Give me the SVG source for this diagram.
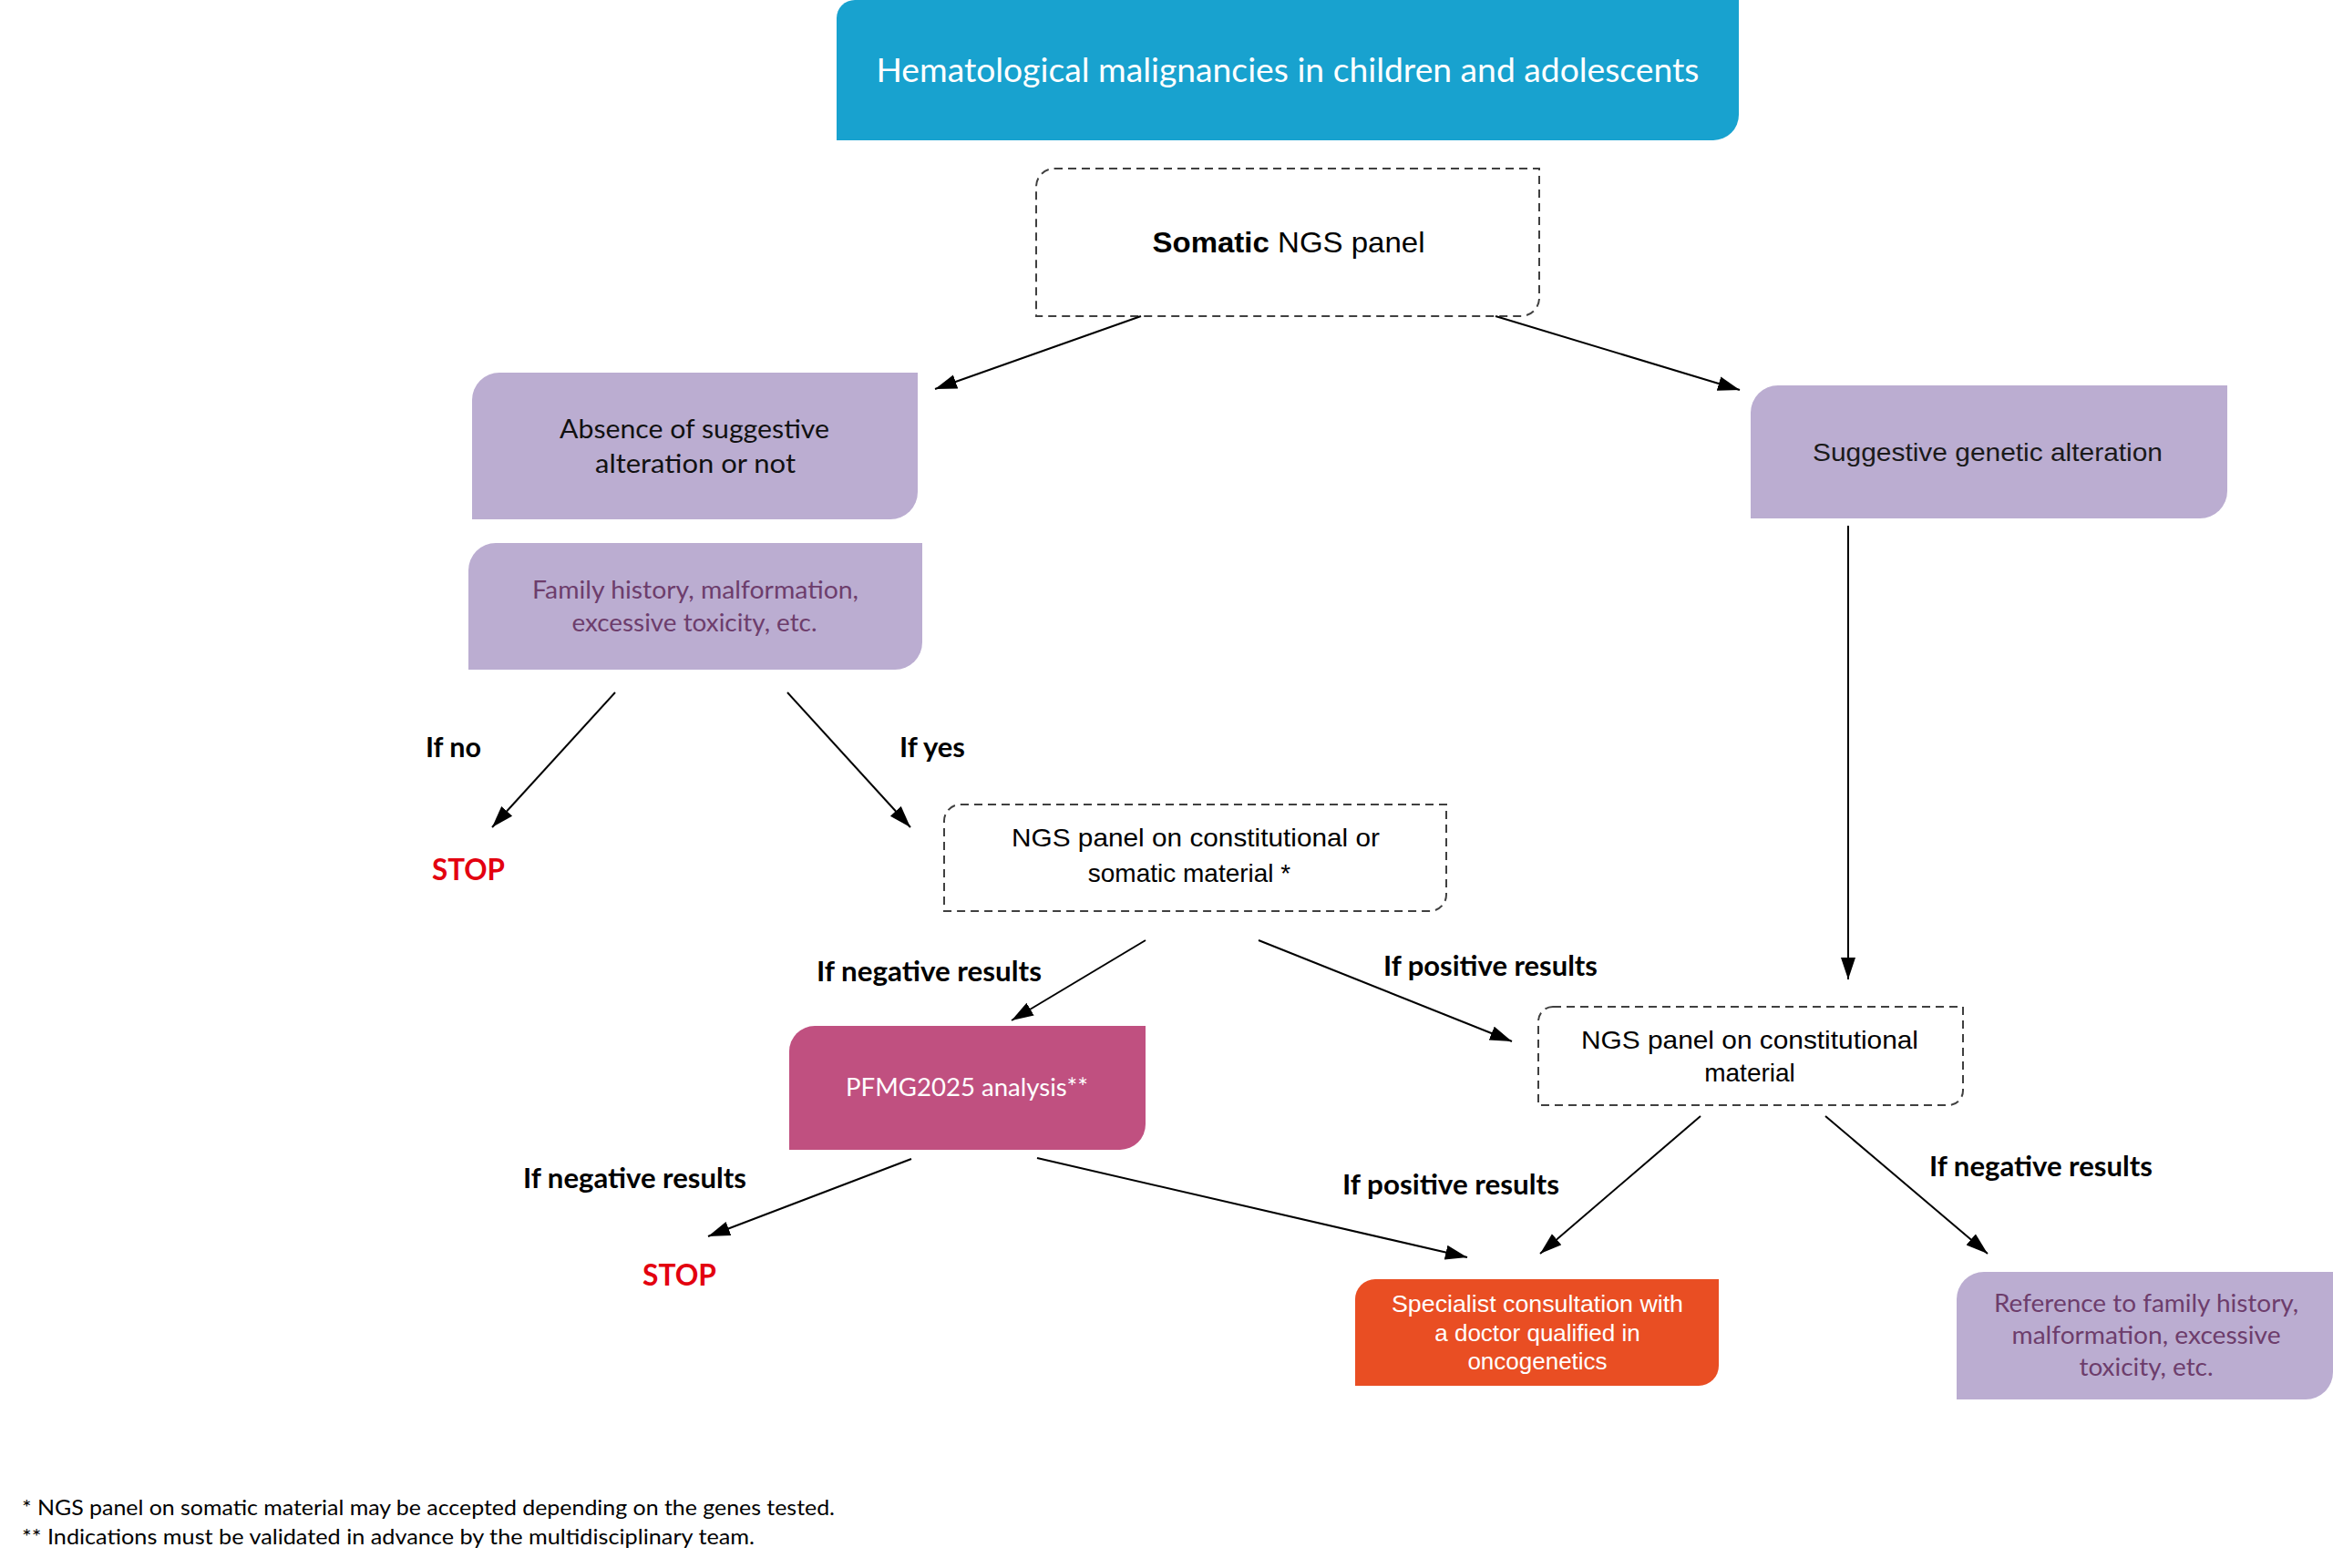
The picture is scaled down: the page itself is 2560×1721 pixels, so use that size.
<svg xmlns="http://www.w3.org/2000/svg" width="2560" height="1721" viewBox="0 0 2560 1721">
<style>
.lato{font-family:Lato,"Open Sans","Liberation Sans",sans-serif}
.arial{font-family:"Liberation Sans",Arial,sans-serif}
.dash{fill:#ffffff;stroke:#404040;stroke-width:2;stroke-dasharray:9 6}
.purple{fill:#bbadd1}
.lbl{font-family:Lato,"Open Sans","Liberation Sans",sans-serif;font-weight:bold;font-size:30px;fill:#000}
.stop{font-family:Lato,"Open Sans","Liberation Sans",sans-serif;font-weight:bold;font-size:33px;fill:#e3000f}
.conn line{stroke:#000;stroke-width:2;marker-end:url(#ah)}
.mid{text-anchor:middle}
</style>
<defs>
<marker id="ah" markerUnits="userSpaceOnUse" markerWidth="26" markerHeight="18" refX="24" refY="8" orient="auto">
<path d="M0,0 L24,8 L0,16 Z" fill="#000"/>
</marker>
</defs>
<rect width="2560" height="1721" fill="#ffffff"/>

<g id="title">
<path d="M938,0 H1908 V126 A28 28 0 0 1 1880,154 H918 V20 A20 20 0 0 1 938,0 Z" fill="#18a2cf"/>
<text class="lato" x="1413" y="90" font-size="37" fill="#ffffff" text-anchor="middle" textLength="903" lengthAdjust="spacingAndGlyphs">Hematological malignancies in children and adolescents</text>
</g>

<g id="somatic">
<path class="dash" d="M1157,185 H1689 V327 A20 20 0 0 1 1669,347 H1137 V205 A20 20 0 0 1 1157,185 Z"/>
<text class="arial" x="1414" y="277" font-size="32" fill="#000" text-anchor="middle" textLength="299" lengthAdjust="spacingAndGlyphs"><tspan font-weight="bold">Somatic</tspan> NGS panel</text>
</g>

<g id="absence">
<path class="purple" d="M548,409 H1007 V540 A30 30 0 0 1 977,570 H518 V439 A30 30 0 0 1 548,409 Z"/>
<text class="lato mid" x="762" y="481" font-size="29" fill="#111" textLength="296" lengthAdjust="spacingAndGlyphs">Absence of suggestive</text>
<text class="lato mid" x="763" y="519" font-size="29" fill="#111" textLength="220" lengthAdjust="spacingAndGlyphs">alteration or not</text>
</g>

<g id="family">
<path class="purple" d="M544,596 H1012 V705 A30 30 0 0 1 982,735 H514 V626 A30 30 0 0 1 544,596 Z"/>
<text class="lato mid" x="763" y="657" font-size="26" fill="#6d3d6c" textLength="358" lengthAdjust="spacingAndGlyphs">Family history, malformation,</text>
<text class="lato mid" x="762" y="693" font-size="26" fill="#6d3d6c" textLength="269" lengthAdjust="spacingAndGlyphs">excessive toxicity, etc.</text>
</g>

<g id="suggestive">
<path class="purple" d="M1951,423 H2444 V539 A30 30 0 0 1 2414,569 H1921 V453 A30 30 0 0 1 1951,423 Z"/>
<text class="arial mid" x="2181" y="506" font-size="28" fill="#1a1a1a" textLength="384" lengthAdjust="spacingAndGlyphs">Suggestive genetic alteration</text>
</g>

<g id="stop1">
<text class="stop" x="474" y="966" textLength="80" lengthAdjust="spacingAndGlyphs">STOP</text>
</g>

<g id="ngs-const-or-somatic">
<path class="dash" d="M1054,883 H1587 V982 A18 18 0 0 1 1569,1000 H1036 V901 A18 18 0 0 1 1054,883 Z"/>
<text class="arial mid" x="1312" y="929" font-size="28" fill="#000" textLength="404" lengthAdjust="spacingAndGlyphs">NGS panel on constitutional or</text>
<text class="arial mid" x="1305" y="968" font-size="28" fill="#000">somatic material *</text>
</g>

<g id="pfmg">
<path d="M894,1126 H1257 V1234 A28 28 0 0 1 1229,1262 H866 V1154 A28 28 0 0 1 894,1126 Z" fill="#c05080"/>
<text class="lato mid" x="1061" y="1203" font-size="26" fill="#ffffff" textLength="266" lengthAdjust="spacingAndGlyphs">PFMG2025 analysis**</text>
</g>

<g id="ngs-const">
<path class="dash" d="M1704,1105 H2154 V1197 A16 16 0 0 1 2138,1213 H1688 V1121 A16 16 0 0 1 1704,1105 Z"/>
<text class="arial mid" x="1920" y="1151" font-size="28" fill="#000" textLength="370" lengthAdjust="spacingAndGlyphs">NGS panel on constitutional</text>
<text class="arial mid" x="1920" y="1187" font-size="28" fill="#000">material</text>
</g>

<g id="stop2">
<text class="stop" x="705" y="1411" textLength="81" lengthAdjust="spacingAndGlyphs">STOP</text>
</g>

<g id="specialist">
<path d="M1509,1404 H1886 V1499 A22 22 0 0 1 1864,1521 H1487 V1426 A22 22 0 0 1 1509,1404 Z" fill="#e94e23"/>
<text class="arial mid" x="1687" y="1440" font-size="26" fill="#ffffff" textLength="320" lengthAdjust="spacingAndGlyphs">Specialist consultation with</text>
<text class="arial mid" x="1687" y="1472" font-size="26" fill="#ffffff">a doctor qualified in</text>
<text class="arial mid" x="1687" y="1503" font-size="26" fill="#ffffff">oncogenetics</text>
</g>

<g id="reference">
<path class="purple" d="M2177,1396 H2560 V1506 A30 30 0 0 1 2530,1536 H2147 V1426 A30 30 0 0 1 2177,1396 Z"/>
<text class="lato mid" x="2355" y="1440" font-size="27" fill="#6d3d6c" textLength="334" lengthAdjust="spacingAndGlyphs">Reference to family history,</text>
<text class="lato mid" x="2355" y="1475" font-size="27" fill="#6d3d6c" textLength="295" lengthAdjust="spacingAndGlyphs">malformation, excessive</text>
<text class="lato mid" x="2355" y="1510" font-size="27" fill="#6d3d6c" textLength="147" lengthAdjust="spacingAndGlyphs">toxicity, etc.</text>
</g>

<g id="labels">
<text class="lbl" x="467" y="831" textLength="61" lengthAdjust="spacingAndGlyphs">If no</text>
<text class="lbl" x="987" y="831" textLength="72" lengthAdjust="spacingAndGlyphs">If yes</text>
<text class="lbl" x="896" y="1077" textLength="247" lengthAdjust="spacingAndGlyphs">If negative results</text>
<text class="lbl" x="1518" y="1071" textLength="235" lengthAdjust="spacingAndGlyphs">If positive results</text>
<text class="lbl" x="574" y="1304" textLength="245" lengthAdjust="spacingAndGlyphs">If negative results</text>
<text class="lbl" x="1473" y="1311" textLength="238" lengthAdjust="spacingAndGlyphs">If positive results</text>
<text class="lbl" x="2117" y="1291" textLength="245" lengthAdjust="spacingAndGlyphs">If negative results</text>
</g>

<g id="connectors" class="conn">
<line x1="1252" y1="347" x2="1026" y2="427"/>
<line x1="1641" y1="347" x2="1909" y2="428"/>
<line x1="2028" y1="577" x2="2028" y2="1075"/>
<line x1="675" y1="760" x2="540" y2="908"/>
<line x1="864" y1="760" x2="999" y2="908"/>
<line x1="1257" y1="1032" x2="1110" y2="1120"/>
<line x1="1381" y1="1032" x2="1659" y2="1143"/>
<line x1="1000" y1="1272" x2="777" y2="1357"/>
<line x1="1138" y1="1271" x2="1610" y2="1380"/>
<line x1="1866" y1="1225" x2="1690" y2="1376"/>
<line x1="2003" y1="1225" x2="2181" y2="1376"/>
</g>

<g id="footnotes">
<text class="lato" x="24" y="1663" font-size="24" fill="#000" textLength="892" lengthAdjust="spacingAndGlyphs">* NGS panel on somatic material may be accepted depending on the genes tested.</text>
<text class="lato" x="24" y="1695" font-size="24" fill="#000" textLength="804" lengthAdjust="spacingAndGlyphs">** Indications must be validated in advance by the multidisciplinary team.</text>
</g>
</svg>
